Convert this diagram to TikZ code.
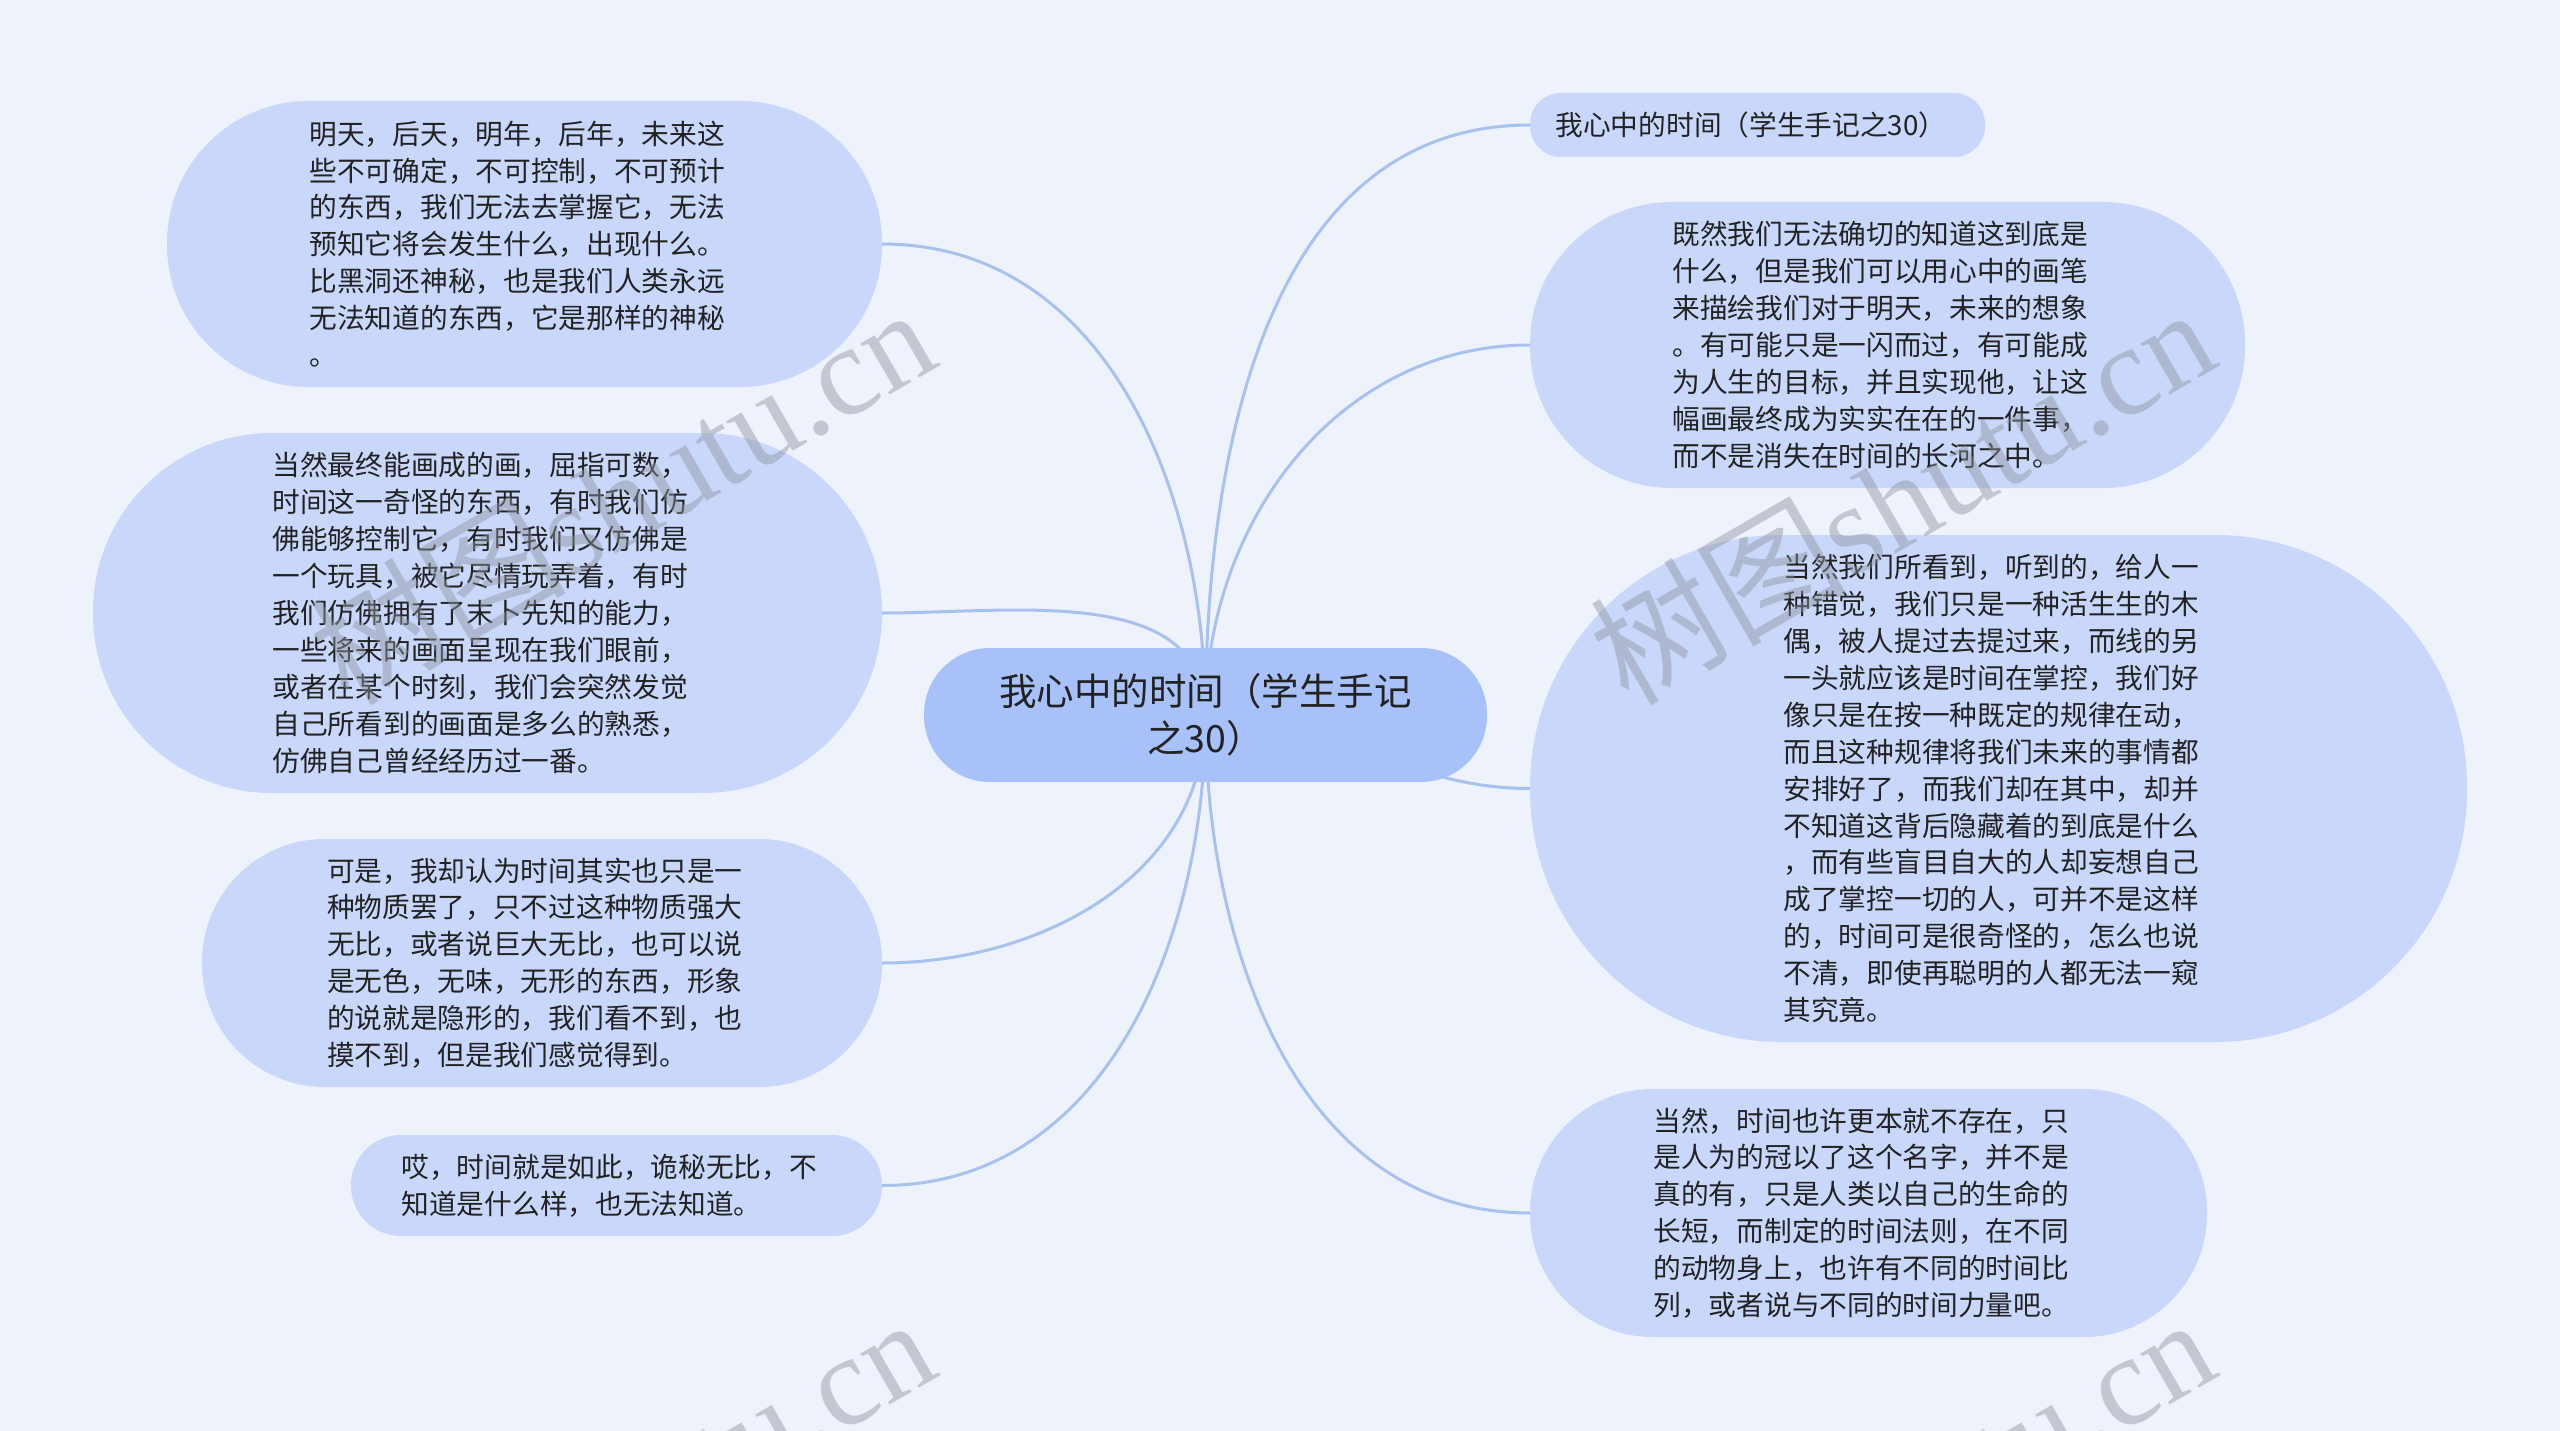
\documentclass[tikz,border=0pt]{standalone}
\usepackage{fontspec}
\setmainfont{Noto Sans CJK SC}
\newfontfamily\wmserif{Liberation Serif}
\usetikzlibrary{backgrounds}
\definecolor{bgc}{HTML}{EEF2FB}
\definecolor{nodefill}{HTML}{C9D8FA}
\definecolor{centerfill}{HTML}{A8C1F8}
\definecolor{linec}{HTML}{A9C1EE}
\definecolor{textc}{HTML}{222222}
\definecolor{wmc}{HTML}{8E94A0}
\begin{document}
\begin{tikzpicture}[x=1pt,y=-1pt,
  leaf/.style={fill=nodefill, draw=none, align=left, text=textc, inner sep=0pt,
    font=\fontsize{27.7}{36.9}\selectfont},
  root/.style={fill=centerfill, draw=none, align=center, text=textc, inner sep=0pt,
    font=\fontsize{37.5}{47}\selectfont},
  link/.style={draw=linec, line width=3pt},
  wm/.style={text=wmc, opacity=0.45, rotate=30, anchor=base west, inner sep=0pt,
    font=\fontsize{128}{128}\selectfont}]
\useasboundingbox (0,0) rectangle (2560,1431);

% central topic
\node[root, minimum width=563, minimum height=134, rounded corners=66] (C) at (1205.5,715)
  {我心中的时间（学生手记\\之30）};

% left branches
\node[leaf, minimum width=715, minimum height=286, rounded corners=142, text width=430] (L1) at (524.5,244)
  {明天，后天，明年，后年，未来这\\些不可确定，不可控制，不可预计\\的东西，我们无法去掌握它，无法\\预知它将会发生什么，出现什么。\\比黑洞还神秘，也是我们人类永远\\无法知道的东西，它是那样的神秘\\。};
\node[leaf, minimum width=789, minimum height=360, rounded corners=179, text width=430] (L2) at (487.5,613)
  {当然最终能画成的画，屈指可数，\\时间这一奇怪的东西，有时我们仿\\佛能够控制它，有时我们又仿佛是\\一个玩具，被它尽情玩弄着，有时\\我们仿佛拥有了末卜先知的能力，\\一些将来的画面呈现在我们眼前，\\或者在某个时刻，我们会突然发觉\\自己所看到的画面是多么的熟悉，\\仿佛自己曾经经历过一番。};
\node[leaf, minimum width=680, minimum height=248, rounded corners=123, text width=430] (L3) at (542,963)
  {可是，我却认为时间其实也只是一\\种物质罢了，只不过这种物质强大\\无比，或者说巨大无比，也可以说\\是无色，无味，无形的东西，形象\\的说就是隐形的，我们看不到，也\\摸不到，但是我们感觉得到。};
\node[leaf, minimum width=531, minimum height=101, rounded corners=50, text width=430] (L4) at (616.5,1185.5)
  {哎，时间就是如此，诡秘无比，不\\知道是什么样，也无法知道。};

% right branches
\node[leaf, minimum width=455, minimum height=64, rounded corners=31, text width=404] (R1) at (1757.5,125)
  {我心中的时间（学生手记之30）};
\node[leaf, minimum width=715, minimum height=286, rounded corners=142, text width=430] (R2) at (1887.5,345)
  {既然我们无法确切的知道这到底是\\什么，但是我们可以用心中的画笔\\来描绘我们对于明天，未来的想象\\。有可能只是一闪而过，有可能成\\为人生的目标，并且实现他，让这\\幅画最终成为实实在在的一件事，\\而不是消失在时间的长河之中。};
\node[leaf, minimum width=937, minimum height=507, rounded corners=252, text width=430] (R3) at (1998.5,788.5)
  {当然我们所看到，听到的，给人一\\种错觉，我们只是一种活生生的木\\偶，被人提过去提过来，而线的另\\一头就应该是时间在掌控，我们好\\像只是在按一种既定的规律在动，\\而且这种规律将我们未来的事情都\\安排好了，而我们却在其中，却并\\不知道这背后隐藏着的到底是什么\\，而有些盲目自大的人却妄想自己\\成了掌控一切的人，可并不是这样\\的，时间可是很奇怪的，怎么也说\\不清，即使再聪明的人都无法一窥\\其究竟。};
\node[leaf, minimum width=677, minimum height=248, rounded corners=123, text width=430] (R4) at (1868.5,1213)
  {当然，时间也许更本就不存在，只\\是人为的冠以了这个名字，并不是\\真的有，只是人类以自己的生命的\\长短，而制定的时间法则，在不同\\的动物身上，也许有不同的时间比\\列，或者说与不同的时间力量吧。};

\begin{scope}[on background layer]
  \fill[bgc] (0,0) rectangle (2560,1431);
  \draw[link] (C.center) to[out=90,in=0] (L1.east);
  \draw[link] (C.center) to[out=90,in=0] (L2.east);
  \draw[link] (C.center) to[out=-90,in=0] (L3.east);
  \draw[link] (C.center) to[out=-90,in=0] (L4.east);
  \draw[link] (C.center) to[out=90,in=180] (R1.west);
  \draw[link] (C.center) to[out=90,in=180] (R2.west);
  \draw[link] (C.center) to[out=0,in=180] (R3.west);
  \draw[link] (C.center) to[out=-90,in=180] (R4.west);
\end{scope}

% watermarks
\node[wm] (w1) at (348,708) {树图{\wmserif shutu.cn}};
\node[wm] (w2) at (1628,708) {树图{\wmserif shutu.cn}};
\node[wm] (w3) at (348,1718) {树图{\wmserif shutu.cn}};
\node[wm] (w4) at (1628,1718) {树图{\wmserif shutu.cn}};
\end{tikzpicture}
\end{document}
